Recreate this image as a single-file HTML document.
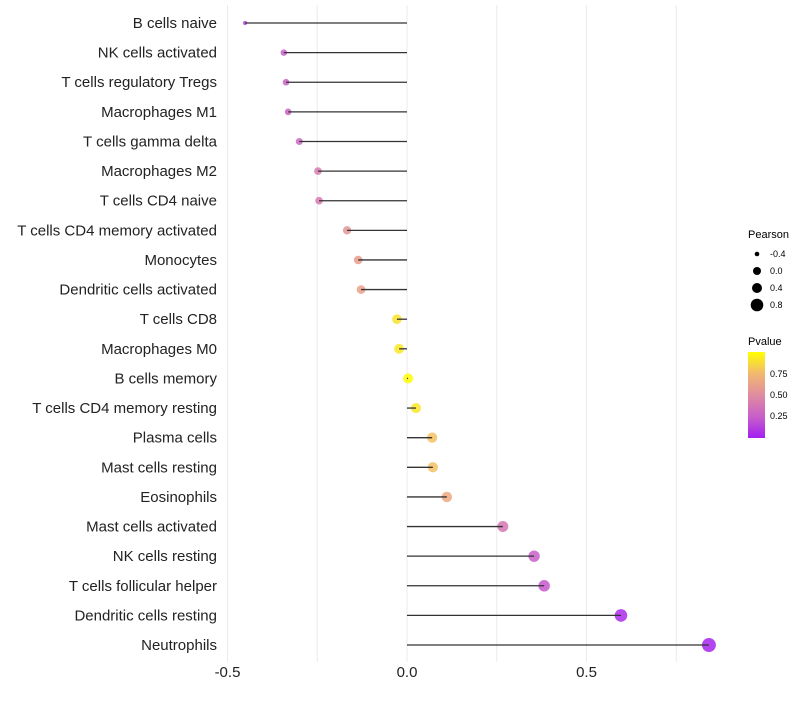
<!DOCTYPE html>
<html><head><meta charset="utf-8"><style>
body{margin:0;background:#fff;font-family:"Liberation Sans",sans-serif}
svg text{font-family:"Liberation Sans",sans-serif}
</style></head><body>
<svg id="chart" width="800" height="700">
<defs><linearGradient id="pg" x1="0" y1="1" x2="0" y2="0">
<stop offset="0" stop-color="#a31ff2"/><stop offset="0.25" stop-color="#c860c8"/><stop offset="0.5" stop-color="#e08ca0"/><stop offset="0.75" stop-color="#f2b870"/><stop offset="1" stop-color="#ffff00"/></linearGradient></defs>
<g id="grid"></g><g id="marks"></g><g id="ylabels"></g><g id="xticks"></g>
<g font-size="10">
<text x="748" y="238" font-size="11">Pearson</text>
<circle cx="757" cy="254" r="2.3"/><text x="770" y="257" font-size="9">-0.4</text>
<circle cx="757" cy="271" r="4"/><text x="770" y="274" font-size="9">0.0</text>
<circle cx="757" cy="288" r="5"/><text x="770" y="291" font-size="9">0.4</text>
<circle cx="757" cy="305" r="6.3"/><text x="770" y="308" font-size="9">0.8</text>
<text x="748" y="345" font-size="11">Pvalue</text>
<rect x="748" y="352" width="17" height="86" fill="url(#pg)"/>
<text x="770" y="377" font-size="9">0.75</text><text x="770" y="398" font-size="9">0.50</text><text x="770" y="419" font-size="9">0.25</text>
</g>
</svg>
<script>
const categories=["B cells naive","NK cells activated","T cells regulatory  Tregs ","Macrophages M1","T cells gamma delta","Macrophages M2","T cells CD4 naive","T cells CD4 memory activated","Monocytes","Dendritic cells activated","T cells CD8","Macrophages M0","B cells memory","T cells CD4 memory resting","Plasma cells","Mast cells resting","Eosinophils","Mast cells activated","NK cells resting","T cells follicular helper","Dendritic cells resting","Neutrophils"];
const pearson=[-0.451,-0.343,-0.337,-0.331,-0.30,-0.248,-0.245,-0.167,-0.136,-0.128,-0.028,-0.022,0.003,0.025,0.07,0.072,0.111,0.267,0.354,0.382,0.596,0.841];
const pvalue=[0.12,0.25,0.26,0.27,0.3,0.4,0.4,0.55,0.6,0.62,0.9,0.92,0.99,0.91,0.78,0.78,0.66,0.38,0.25,0.22,0.05,0.02];
const xTicks=[-0.5,0,0.5];
const xTickLabels=["-0.5","0.0","0.5"];
const minorTicks=[-0.25,0.25,0.75];
const NS="http://www.w3.org/2000/svg";
const xs=v=>407+v*359;
const ys=i=>23+i*29.62;
const rKnotsP=[-0.46,-0.34,-0.25,0,0.27,0.6,0.85];
const rKnotsR=[2,3.3,3.8,5,5.5,6.3,7];
function rs(p){if(p<=rKnotsP[0])return rKnotsR[0];for(let k=1;k<rKnotsP.length;k++){if(p<=rKnotsP[k]){const t=(p-rKnotsP[k-1])/(rKnotsP[k]-rKnotsP[k-1]);return rKnotsR[k-1]+t*(rKnotsR[k]-rKnotsR[k-1]);}}return rKnotsR[rKnotsR.length-1];}
const stops=[[0,[163,31,242]],[0.25,[200,96,200]],[0.5,[224,140,160]],[0.75,[242,184,112]],[1,[255,255,0]]];
function col(p){for(let k=1;k<stops.length;k++){if(p<=stops[k][0]){const a=stops[k-1],b=stops[k],t=(p-a[0])/(b[0]-a[0]);return "rgb("+a[1].map((c,j)=>Math.round(c+(b[1][j]-c)*t)).join(",")+")";}}return "rgb(255,255,0)";}
function mk(t,at,par){const e=document.createElementNS(NS,t);for(const k in at)e.setAttribute(k,at[k]);document.getElementById(par).appendChild(e);return e;}
xTicks.concat(minorTicks).forEach(v=>{const l=mk("line",{x1:xs(v),x2:xs(v),y1:5,y2:662,stroke:"#ebebeb","stroke-width":1},"grid");

});
xTicks.forEach((v,i)=>{const t=mk("text",{x:xs(v),y:677,"text-anchor":"middle","font-size":15,fill:"#222"},"xticks");t.textContent=xTickLabels[i];

});
categories.forEach((c,i)=>{
const t=mk("text",{x:217,y:ys(i)+5,"text-anchor":"end","font-size":15,fill:"#222"},"ylabels");t.textContent=c;


const pt=mk("circle",{cx:xs(pearson[i]),cy:ys(i),r:rs(pearson[i]),fill:col(pvalue[i]),"fill-opacity":0.85},"marks");


const ln=mk("line",{x1:xs(0),x2:xs(pearson[i]),y1:ys(i),y2:ys(i),stroke:"#333","stroke-width":1.3},"marks");


});
</script>
</body></html>
